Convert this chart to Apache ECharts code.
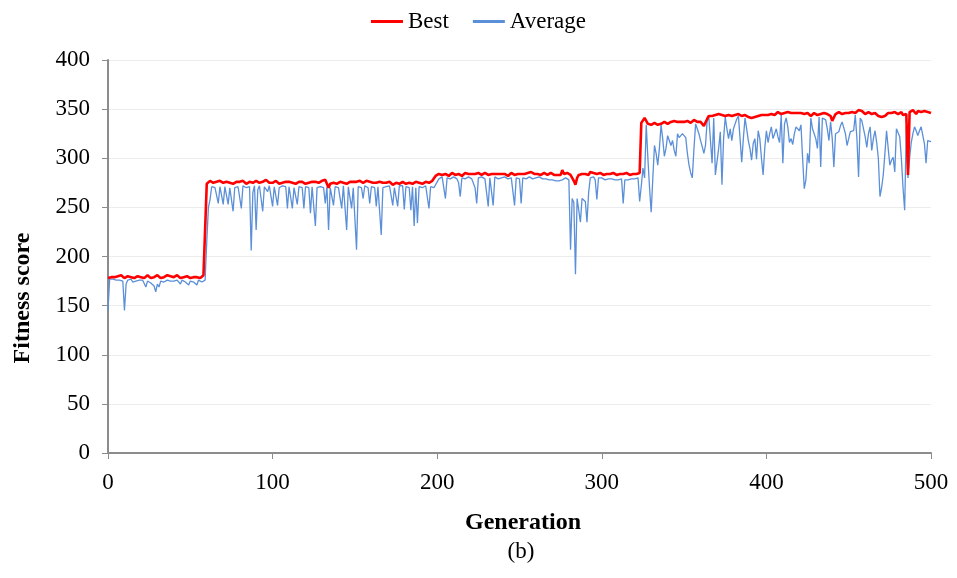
<!DOCTYPE html>
<html>
<head>
<meta charset="utf-8">
<script src="https://cdn.jsdelivr.net/npm/echarts@6/dist/echarts.min.js"></script>
<style>
  html, body { margin: 0; padding: 0; background: #fff; }
  #chart { width: 957px; height: 578px; }
</style>
</head>
<body>
<div id="chart"></div>
<script>
// Best fitness per generation, in blocks of 100 generations
const best0 = [
  178,180,179,181,179,178,180,179,181,180,
  178,179,180,181,179,180,178,179,180,181,
  179,180,178,180,181,179,178,180,179,180,
  181,179,178,180,179,180,181,179,180,178,
  179,180,181,179,178,180,179,181,180,179,
  178,180,179,181,179,180,178,180,181,180,
  274,276,277,276,275,277,276,275,277,276,
  275,274,276,277,275,276,274,275,276,277,
  276,275,277,276,274,275,276,277,275,276,
  277,276,275,274,276,277,278,276,275,276
];
const best1 = [
  275,276,277,275,274,276,275,277,276,275,
  276,277,275,276,274,275,276,277,276,275,
  274,276,275,277,276,275,276,274,275,276,
  277,276,278,280,270,274,276,275,276,274,
  275,276,277,275,276,274,275,276,277,276,
  275,276,278,277,276,275,276,277,275,276,
  274,275,276,275,277,276,274,275,276,275,
  274,276,275,273,274,275,276,274,275,276,
  275,274,276,275,273,274,275,276,274,275,
  276,274,275,276,277,275,276,277,277,282
];
const best2 = [
  283,284,282,283,285,284,283,282,284,285,
  284,283,285,284,283,282,284,285,283,284,
  285,284,283,284,286,285,284,283,284,285,
  284,283,285,284,283,284,285,284,283,284,
  285,284,283,282,284,285,284,283,285,284,
  283,284,285,284,283,285,284,286,285,284,
  283,284,285,283,284,285,284,283,284,285,
  284,283,282,283,284,283,288,284,283,285,
  285,283,281,277,273,280,283,285,284,286,
  284,285,283,286,284,285,283,284,286,285
];
const best3 = [
  284,283,285,284,286,284,283,285,284,283,
  285,284,286,284,283,285,284,283,282,284,
  283,284,285,285,336,338,341,339,335,334,
  334,335,336,335,334,336,335,336,337,336,
  335,336,337,336,338,336,337,339,337,336,
  337,336,338,337,336,337,339,338,337,336,
  337,335,333,334,340,343,344,343,342,344,
  344,345,343,344,346,343,342,344,345,343,
  342,344,343,345,344,343,342,344,343,342,
  340,341,343,342,344,343,345,344,343,344
];
const best4 = [
  345,344,343,345,346,344,345,347,346,345,
  344,346,345,347,348,346,345,346,347,346,
  345,346,347,345,344,346,345,343,344,346,
  345,344,346,345,347,346,344,345,346,343,
  338,338,345,346,347,346,345,344,346,347,
  346,345,347,348,346,347,349,351,348,346,
  345,346,347,346,345,347,346,344,343,345,
  342,341,343,345,346,347,346,345,347,346,
  345,346,347,344,342,345,283,347,346,349,
  347,345,348,346,347,345,348,346,347,345,346
];

// Average fitness per generation, same blocks
const avg0 = [
  145,177,176,177,175,176,174,176,175,175,
  145,172,176,175,177,174,176,175,177,176,
  175,176,174,169,175,176,173,175,170,164,
  172,169,175,176,174,175,176,174,175,176,
  175,174,176,175,172,176,175,174,176,171,
  175,176,174,175,171,176,175,174,176,176,
  215,250,258,271,272,270,272,254,271,272,
  253,271,272,253,270,272,246,270,272,271,
  270,249,272,271,270,272,271,206,265,272,
  227,268,272,270,246,271,272,266,272,270
];
const avg1 = [
  251,271,272,252,270,271,272,270,271,249,
  271,272,249,270,272,253,271,272,270,249,
  271,272,270,244,271,272,231,270,272,271,
  272,270,254,271,227,270,272,252,271,272,
  270,271,249,272,270,227,271,272,249,270,
  272,207,271,272,270,259,272,271,270,254,
  271,272,270,251,271,272,222,270,272,271,
  270,272,271,252,270,271,251,272,270,272,
  248,271,272,270,247,271,231,270,234,271,
  272,270,271,272,270,249,271,272,270,272
];
const avg2 = [
  276,279,280,281,279,259,280,281,279,280,
  281,280,279,275,261,280,281,279,280,281,
  280,279,281,270,254,280,279,281,280,279,
  281,251,280,279,252,281,280,279,281,280,
  279,281,280,279,281,280,279,252,280,281,
  279,254,280,281,279,280,281,280,279,281,
  280,279,281,280,279,278,279,277,278,277,
  278,276,277,278,277,276,278,279,280,279,
  278,207,259,255,182,259,258,235,259,258,
  256,235,265,280,279,281,278,258,280,279
];
const avg3 = [
  280,279,278,280,279,278,279,277,278,279,
  278,280,279,254,278,279,278,280,279,278,
  279,278,280,256,272,290,280,334,300,270,
  245,280,313,305,293,310,334,320,302,310,
  323,318,313,318,308,302,325,321,321,325,
  323,321,305,293,285,280,310,335,330,325,
  318,312,305,313,338,342,341,295,341,283,
  285,310,327,273,320,342,330,320,330,318,
  330,335,340,343,320,296,320,341,330,318,
  310,298,315,320,299,328,320,300,283,310
];
const avg4 = [
  328,316,325,332,320,325,330,322,316,344,
  295,335,341,332,316,320,314,325,332,330,
  328,334,300,269,278,305,295,341,330,330,
  320,310,342,291,341,340,339,330,318,337,
  320,291,325,326,327,333,337,339,325,313,
  320,327,326,328,344,320,281,341,338,330,
  322,311,325,332,308,320,328,316,300,261,
  270,283,305,328,310,293,298,301,286,330,
  326,322,300,270,247,332,280,300,316,325,
  332,328,323,328,332,332,315,295,318,318,317
];

const seriesNames = ['Best', 'Average'];
const xTicks = [0, 100, 200, 300, 400, 500];
const yTicks = [0, 50, 100, 150, 200, 250, 300, 350, 400];

const bestValues = [].concat(best0, best1, best2, best3, best4);
const avgValues = [].concat(avg0, avg1, avg2, avg3, avg4);
const toPairs = vals => vals.map((v, i) => [i, v]);

const FONT = '"Liberation Serif", "Times New Roman", serif';
const RED = '#ff0000';
const BLUE = '#5b8fd8';

const chart = echarts.init(document.getElementById('chart'), null, { renderer: 'canvas' });
chart.setOption({
  backgroundColor: '#ffffff',
  animation: false,
  textStyle: { fontFamily: FONT, color: '#000' },
  legend: {
    data: [
      { name: seriesNames[0], itemStyle: { color: RED } },
      { name: seriesNames[1], itemStyle: { color: BLUE } }
    ],
    top: 5,
    left: 'center',
    itemWidth: 32,
    itemHeight: 3,
    itemGap: 24,
    textStyle: { fontFamily: FONT, fontSize: 23, color: '#000' },
    icon: 'rect'
  },
  grid: { left: 108, right: 26, top: 60, bottom: 125, containLabel: false },
  xAxis: {
    type: 'value',
    min: xTicks[0],
    max: xTicks[xTicks.length - 1],
    interval: 100,
    axisLine: { show: true, lineStyle: { color: '#8c8c8c', width: 2 } },
    axisTick: { show: true, length: 6, lineStyle: { color: '#8c8c8c', width: 1 } },
    axisLabel: { fontFamily: FONT, fontSize: 23, color: '#000', margin: 18 },
    splitLine: { show: false }
  },
  yAxis: {
    type: 'value',
    min: yTicks[0],
    max: yTicks[yTicks.length - 1],
    interval: 50,
    axisLine: { show: true, lineStyle: { color: '#8c8c8c', width: 2 } },
    axisTick: { show: true, length: 6, lineStyle: { color: '#8c8c8c', width: 1 } },
    axisLabel: { fontFamily: FONT, fontSize: 23, color: '#000', margin: 18 },
    splitLine: { show: true, lineStyle: { color: '#ececec', width: 1 } }
  },
  series: [
    {
      name: seriesNames[0],
      type: 'line',
      data: toPairs(bestValues),
      showSymbol: false,
      symbol: 'none',
      color: RED,
      lineStyle: { color: RED, width: 2.6 },
      z: 3
    },
    {
      name: seriesNames[1],
      type: 'line',
      data: toPairs(avgValues),
      showSymbol: false,
      symbol: 'none',
      color: BLUE,
      lineStyle: { color: BLUE, width: 1.3 },
      z: 2
    }
  ],
  graphic: [
    {
      type: 'text',
      x: 23, y: 298,
      rotation: Math.PI / 2,
      style: {
        text: 'Fitness score',
        font: 'bold 24px ' + FONT,
        fill: '#000',
        align: 'center',
        verticalAlign: 'middle'
      }
    },
    {
      type: 'text',
      x: 523, y: 523,
      style: {
        text: 'Generation',
        font: 'bold 24px ' + FONT,
        fill: '#000',
        align: 'center',
        verticalAlign: 'middle'
      }
    },
    {
      type: 'text',
      x: 521, y: 552,
      style: {
        text: '(b)',
        font: '23px ' + FONT,
        fill: '#000',
        align: 'center',
        verticalAlign: 'middle'
      }
    }
  ]
});
</script>
</body>
</html>
